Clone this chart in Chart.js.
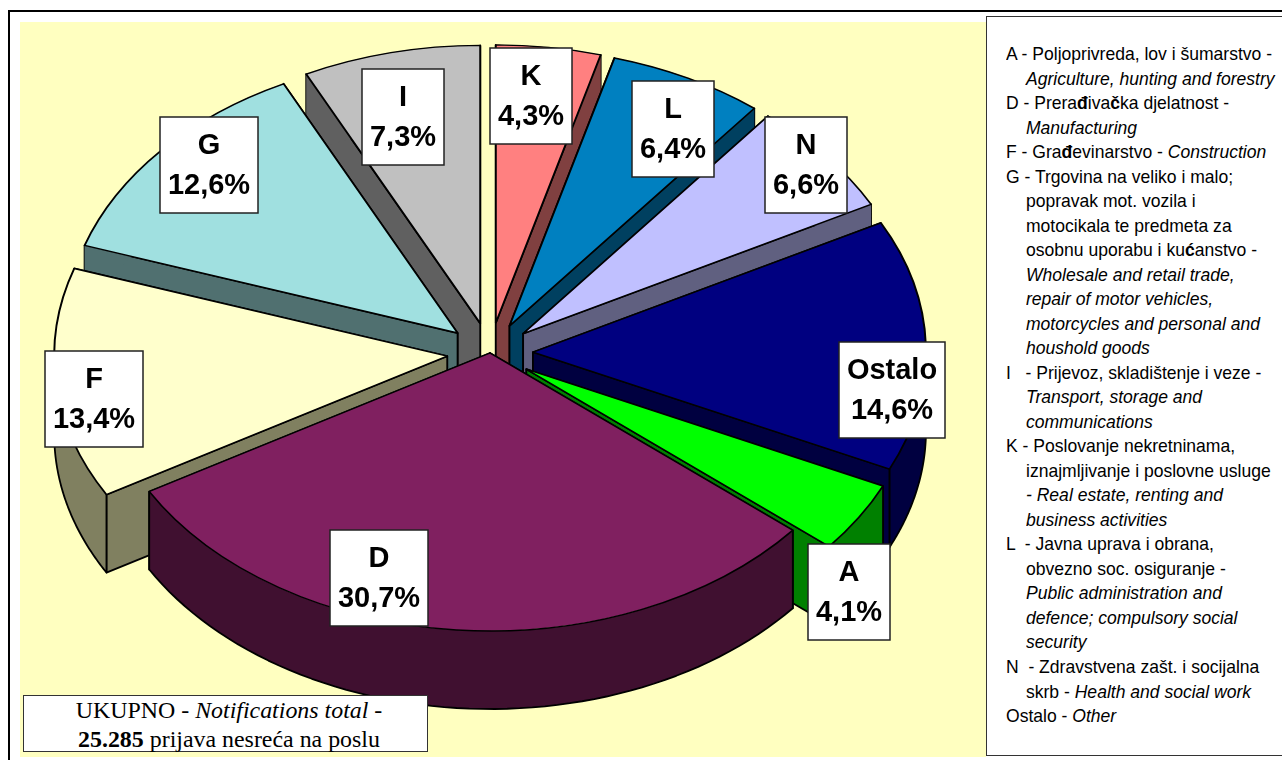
<!DOCTYPE html>
<html><head><meta charset="utf-8">
<script src="https://cdn.jsdelivr.net/npm/chart.js@4"></script>
<style>
html,body{margin:0;padding:0;background:#fff;overflow:hidden}
#frame{position:absolute;left:8px;top:10px;width:1400px;height:900px;border:2px solid #000;box-sizing:border-box}
#plot{position:absolute;left:20px;top:22px;width:966px;height:735px;background:#FFFFC0}
#wrap{position:absolute;left:0;top:0;width:1282px;height:760px}
#legendBox{position:absolute;left:986px;top:16px;width:400px;height:740px;background:#fff;border:1px solid #333;box-sizing:border-box}
.lg{position:absolute;left:1006px;white-space:pre;font:18.6px/24px "Liberation Sans",sans-serif;color:#000;transform-origin:0 50%;transform:scaleX(.943)}
#total{position:absolute;left:23px;top:695px;width:405px;height:57px;padding-left:7px;background:#fff;border:1px solid #333;box-sizing:border-box;font:23.9px/28.5px "Liberation Serif",serif;text-align:center;color:#000;white-space:nowrap}
</style></head>
<body>
<div id="frame"></div><div id="plot"></div>
<div id="wrap"><canvas id="c" width="1282" height="760"></canvas></div>
<div id="legendBox"></div>
<div id="total"><div>UKUPNO - <i>Notifications total</i> -</div><div><b>25.285</b> prijava nesreća na poslu</div></div>
<script>
const categories = ['K','L','N','Ostalo','A','D','F','G','I'];
const shares = [4.3,6.4,6.6,14.6,4.1,30.7,13.4,12.6,7.3];
const topColors = ['#FF8080','#0080C0','#C0C0FF','#000080','#00FF00','#802060','#FFFFCC','#A0E0E0','#C0C0C0'];
const wallColors = ['#804040','#004060','#606080','#000040','#008000','#401030','#808060','#507070','#606060'];
const exploded = [1,1,1,1,1,0,1,1,1];
const labelCentres = [[531,96],[673,129],[806,165],[892,390],[849,592],[379,578],[94,399],[209,165],[403,117]];
const legendLines = [
 ['A - Poljoprivreda, lov i šumarstvo -',0],
 ['<i>Agriculture, hunting and forestry</i>',1],
 ['D - Prera<b>đ</b>iva<b>č</b>ka djelatnost -',0],
 ['<i>Manufacturing</i>',1],
 ['F - Gra<b>đ</b>evinarstvo - <i>Construction</i>',0],
 ['G - Trgovina na veliko i malo;',0],
 ['popravak mot. vozila i',1],
 ['motocikala te predmeta za',1],
 ['osobnu uporabu i ku<b>ć</b>anstvo -',1],
 ['<i>Wholesale and retail trade,</i>',1],
 ['<i>repair of motor vehicles,</i>',1],
 ['<i>motorcycles and personal and</i>',1],
 ['<i>houshold goods</i>',1],
 ['I   - Prijevoz, skladištenje i veze -',0],
 ['<i>Transport, storage and</i>',1],
 ['<i>communications</i>',1],
 ['K - Poslovanje nekretninama,',0],
 ['iznajmljivanje i poslovne usluge',1],
 ['<i>- Real estate, renting and</i>',1],
 ['<i>business activities</i>',1],
 ['L  - Javna uprava i obrana,',0],
 ['obvezno soc. osiguranje -',1],
 ['<i>Public administration and</i>',1],
 ['<i>defence; compulsory social</i>',1],
 ['<i>security</i>',1],
 ['N  - Zdravstvena zašt. i socijalna',0],
 ['skrb - <i>Health and social work</i>',1],
 ['Ostalo - <i>Other</i>',0]
];
legendLines.forEach((l,i)=>{
  const d=document.createElement('div');d.className='lg';d.innerHTML=l[0];
  d.style.top=(42+i*24.52)+'px';
  if(l[1])d.style.left='1026px';
  document.body.appendChild(d);
});

const CX=490,CY=353,RX=393,RY=278,DEPTH=78,EXPLODE=43,BASE_R=300;
const SX=RX/BASE_R,SY=RY/BASE_R;

function geom(a){
  const mid=(a.startAngle+a.endAngle)/2;
  const i=a.$idx;
  const ox=exploded[i]*EXPLODE/SX*Math.cos(mid), oy=exploded[i]*EXPLODE/SX*Math.sin(mid);
  return {ox,oy,pt(t,dz){return [CX+SX*(ox+a.outerRadius*Math.cos(t)),CY+SY*(oy+a.outerRadius*Math.sin(t))+(dz||0)];},
          apex(dz){return [CX+SX*ox,CY+SY*oy+(dz||0)];}};
}
function poly(ctx,pts,close){ctx.beginPath();pts.forEach((p,i)=>i?ctx.lineTo(p[0],p[1]):ctx.moveTo(p[0],p[1]));if(close)ctx.closePath();}

const pie3d={id:'pie3d',
 beforeDatasetDraw(chart){
  const ctx=chart.ctx,arcs=chart.getDatasetMeta(0).data;
  arcs.forEach((a,i)=>a.$idx=i);
  const order=[...arcs].sort((p,q)=>Math.sin((p.startAngle+p.endAngle)/2)-Math.sin((q.startAngle+q.endAngle)/2));
  ctx.save();ctx.lineWidth=1.8;ctx.strokeStyle='#000';ctx.lineJoin='round';
  order.forEach(a=>{
    const g=geom(a),col=wallColors[a.$idx],S=a.startAngle,E=a.endAngle;
    ctx.fillStyle=col;
    const cuts=[S,E].map(t=>[g.apex(0),g.pt(t,0),g.pt(t,DEPTH),g.apex(DEPTH)]);
    cuts.sort((p,q)=>(p[1][1])-(q[1][1]));
    cuts.forEach(c=>{poly(ctx,c,true);ctx.fill();ctx.stroke();});
    const top=[],bot=[],n=60;
    for(let k=0;k<=n;k++){const t=S+(E-S)*k/n;top.push(g.pt(t,0));bot.unshift(g.pt(t,DEPTH));}
    poly(ctx,top.concat(bot),true);ctx.fill();
    const lo=Math.max(S,0),hi=Math.min(E,Math.PI);
    if(hi>lo){
      const edge=[g.pt(lo,0)];
      for(let k=0;k<=n;k++)edge.push(g.pt(lo+(hi-lo)*k/n,DEPTH));
      edge.push(g.pt(hi,0));
      poly(ctx,edge,false);ctx.stroke();
    }
  });
  ctx.restore();
  arcs.forEach((a,i)=>{
    const g=geom(a);
    ctx.save();
    ctx.translate(CX,CY);ctx.scale(SX,SY);ctx.translate(g.ox,g.oy);ctx.translate(-a.x,-a.y);
    a.draw(ctx);
    ctx.restore();
  });
  return false;
 },
 afterDraw(chart){
  const ctx=chart.ctx;
  ctx.save();
  ctx.font='bold 29px "Liberation Sans", sans-serif';
  ctx.textAlign='center';ctx.textBaseline='alphabetic';
  categories.forEach((c,i)=>{
    const v=shares[i].toFixed(1).replace('.',',')+'%';
    const w=Math.round(Math.max(ctx.measureText(c).width,ctx.measureText(v).width))+16,h=96;
    const [x,y]=labelCentres[i];
    ctx.fillStyle='#fff';ctx.strokeStyle='#222';ctx.lineWidth=1.5;
    ctx.fillRect(x-w/2,y-h/2,w,h);ctx.strokeRect(x-w/2,y-h/2,w,h);
    ctx.fillStyle='#000';
    ctx.fillText(c,x,y-11);ctx.fillText(v,x,y+29);
  });
  ctx.restore();
 }
};

new Chart(document.getElementById('c'),{
 type:'pie',
 data:{labels:categories,datasets:[{data:shares,backgroundColor:topColors,borderColor:'#000',borderWidth:1.5,borderJoinStyle:'round',hoverOffset:0,radius:BASE_R}]},
 options:{responsive:false,animation:false,rotation:0,circumference:360,
  plugins:{legend:{display:false},tooltip:{enabled:false},title:{display:false}},
  events:[]},
 plugins:[pie3d]
});
</script>
</body></html>
